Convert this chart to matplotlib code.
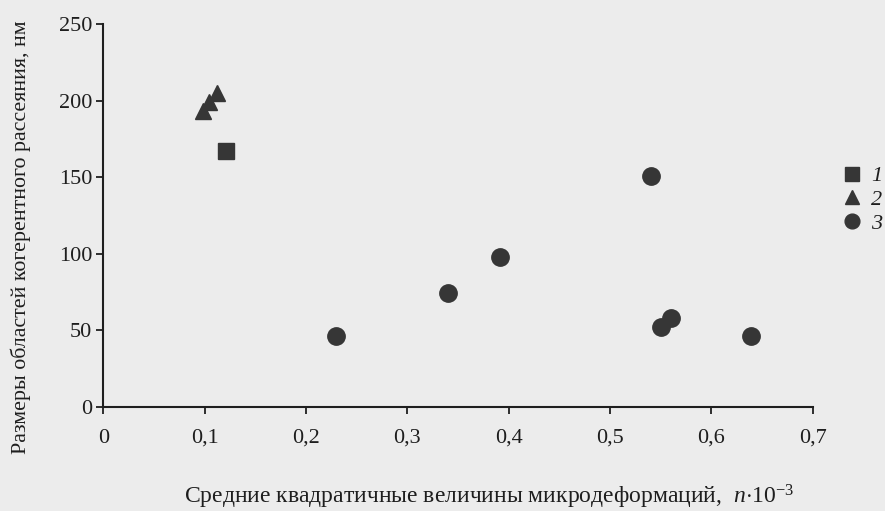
import matplotlib
matplotlib.use("Agg")
import matplotlib.pyplot as plt

# Данные
x1 = [0.121]
y1 = [167]
x2 = [0.098, 0.104, 0.112]
y2 = [193, 199, 205]
x3 = [0.230, 0.340, 0.391, 0.540, 0.550, 0.560, 0.639]
y3 = [46, 74, 98, 151, 52, 58, 46]

series_labels = ["1", "2", "3"]
xticks = [0, 0.1, 0.2, 0.3, 0.4, 0.5, 0.6, 0.7]
xtick_labels = ["0", "0,1", "0,2", "0,3", "0,4", "0,5", "0,6", "0,7"]
yticks = [0, 50, 100, 150, 200, 250]

plt.rcParams['font.family'] = ['Liberation Serif', 'DejaVu Serif']
plt.rcParams['mathtext.fontset'] = 'custom'
plt.rcParams['mathtext.rm'] = 'Liberation Serif'
plt.rcParams['mathtext.it'] = 'Liberation Serif:italic'

bg = '#ececec'
ink = '#1e1e1e'
mark = '#363636'

fig = plt.figure(figsize=(8.85, 5.11), dpi=100, facecolor=bg)
ax = fig.add_axes([0.1167, 0.2041, 0.8016, 0.7489])
ax.set_facecolor(bg)

h1, = ax.plot(x1, y1, 's', color=mark, markersize=11.3, linestyle='none', label=series_labels[0])
h2, = ax.plot(x2, y2, '^', color=mark, markersize=12, linestyle='none', label=series_labels[1])
h3, = ax.plot(x3, y3, 'o', color=mark, markersize=12.5, linestyle='none', label=series_labels[2])

ax.set_xlim(0, 0.7)
ax.set_ylim(0, 250)
ax.set_xticks(xticks)
ax.set_xticklabels(xtick_labels)
ax.set_yticks(yticks)

for side in ['top', 'right']:
    ax.spines[side].set_visible(False)
for side in ['left', 'bottom']:
    ax.spines[side].set_linewidth(1.5)
    ax.spines[side].set_color(ink)

ax.tick_params(axis='both', direction='out', length=5, width=1.3, color=ink,
               labelsize=16, labelcolor=ink)
ax.tick_params(axis='x', pad=11)
ax.tick_params(axis='y', pad=3)

ax.set_xlabel(r"Средние квадратичные величины микродеформаций,  $n{\cdot}10^{-3}$",
              fontsize=17, color=ink, va='center', ha='center')
ax.xaxis.set_label_coords(0.544, -0.236)
ax.set_ylabel("Размеры областей когерентного рассеяния, нм", fontsize=15.8,
              color=ink, va='center', ha='center')
ax.yaxis.set_label_coords(-0.117, 0.443)

leg = fig.legend(handles=[h1, h2, h3], loc='center left', bbox_to_anchor=(0.930, 0.609),
                 frameon=False, fontsize=16, handlelength=0.8, handletextpad=0.45,
                 labelspacing=0.14, markerscale=0.85)
for t in leg.get_texts():
    t.set_fontstyle('italic')
    t.set_color(ink)

fig.savefig('out.png', dpi=100, facecolor=bg)
